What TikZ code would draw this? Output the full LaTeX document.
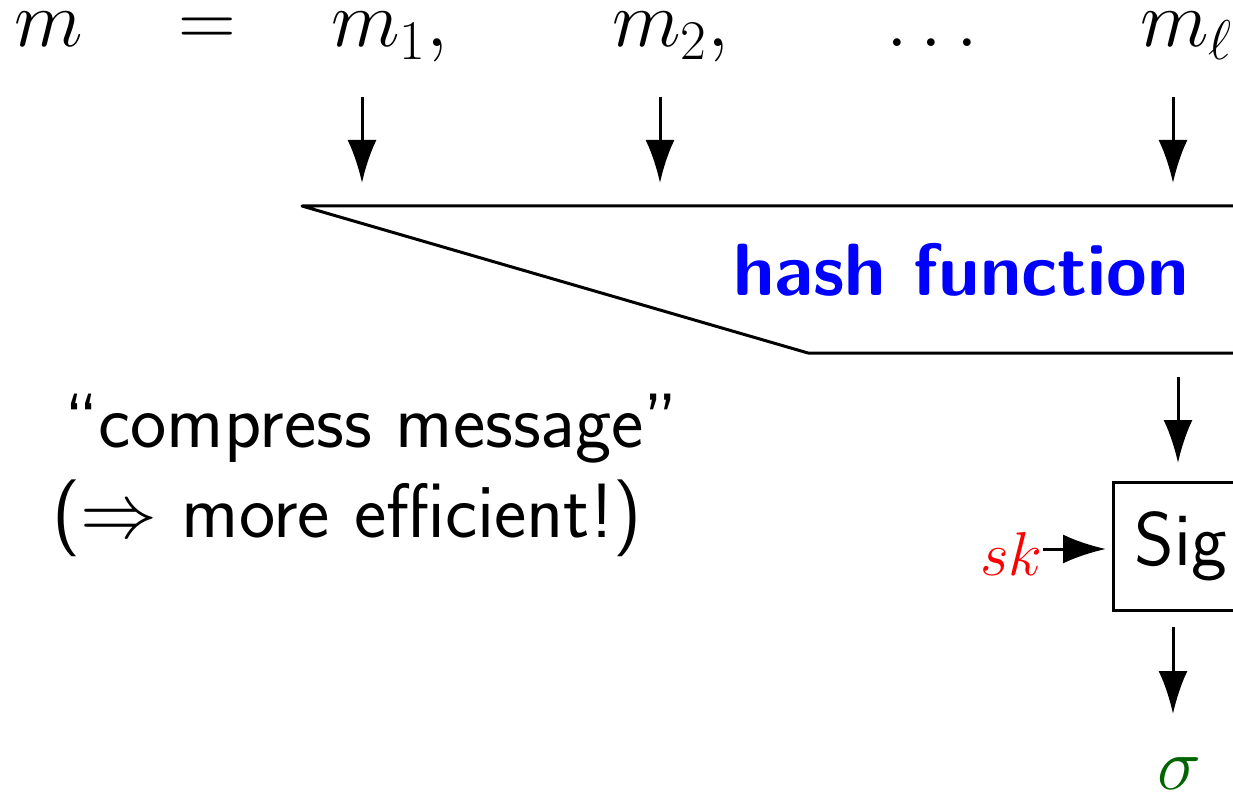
\RequirePackage{fix-cm}
\documentclass[tikz,border=0pt]{standalone}
\usetikzlibrary{arrows.meta}
\definecolor{keyred}{RGB}{255,0,0}
\definecolor{hashblue}{RGB}{0,0,255}
\definecolor{siggreen}{RGB}{0,100,0}
\tikzset{
  arr/.style={line width=1.5pt, -{Latex[length=21.5pt,width=14.5pt]}},
  mathtxt/.style={inner sep=0pt, anchor=base west, font=\fontsize{40}{46}\selectfont},
  frame/.style={line width=1.5pt, line join=round},
}
\begin{document}
\begin{tikzpicture}[x=0.5pt, y=-0.5pt]
  \useasboundingbox (0,0) rectangle (1233,792);
  \clip (0,0) rectangle (1233,792);

  % message blocks
  \node[mathtxt] (m)    at (14,47)   {$m$};
  \node[mathtxt, anchor=base] (eq) at (207,47) {$=$};
  \node[mathtxt] (m1)   at (331,47)  {$m_1,$};
  \node[mathtxt] (m2)   at (612,47)  {$m_2,$};
  \node[mathtxt, anchor=base] (dots) at (932,47) {$\dots$};
  \node[mathtxt] (ml)   at (1140,47) {$m_\ell$};

  % hash function funnel
  \draw[frame] (1300,206) -- (302,206) -- (808,353) -- (1300,353);
  \node[inner sep=0pt, anchor=base west, text=hashblue,
        font=\fontsize{37}{40}\selectfont\sffamily\bfseries] (hash) at (733,295) {hash function};

  % inputs into the hash
  \coordinate (a1) at (362,97);  \coordinate (b1) at (362,183);
  \coordinate (a2) at (660,97);  \coordinate (b2) at (660,183);
  \coordinate (a3) at (1173,97); \coordinate (b3) at (1173,183);
  \draw[arr] (a1) -- (b1);
  \draw[arr] (a2) -- (b2);
  \draw[arr] (a3) -- (b3);

  % signing box
  \node[draw, line width=1.5pt, anchor=north west, minimum height=64pt,
        inner xsep=10.5pt, font=\fontsize{38}{40}\selectfont\sffamily] (sig) at (1112,481) {Sig};
  \coordinate (hout) at (1178,377);
  \draw[arr] (hout) -- (1178,463);

  \node[inner sep=0pt, anchor=base west, text=keyred,
        font=\fontsize{31}{36}\selectfont] (sk) at (980,575) {$sk$};
  \draw[arr, shorten >=3pt] (sk.east |- 1044,549) -- (sig.west |- 1044,549);

  \node[inner sep=0pt, anchor=base west, text=siggreen,
        font=\fontsize{37}{42}\selectfont] (sigma) at (1157,789) {$\sigma$};
  \draw[arr] (1173,627) -- (1173,714);

  % remark (anchored on the baseline of its last line)
  \node[inner sep=0pt, anchor=base west, align=left,
        font=\fontsize{38.5}{45}\selectfont\sffamily] (note) at (52,537)
        {\hspace*{6pt}``compress message''\\($\Rightarrow$ more efficient!)};
\end{tikzpicture}
\end{document}
